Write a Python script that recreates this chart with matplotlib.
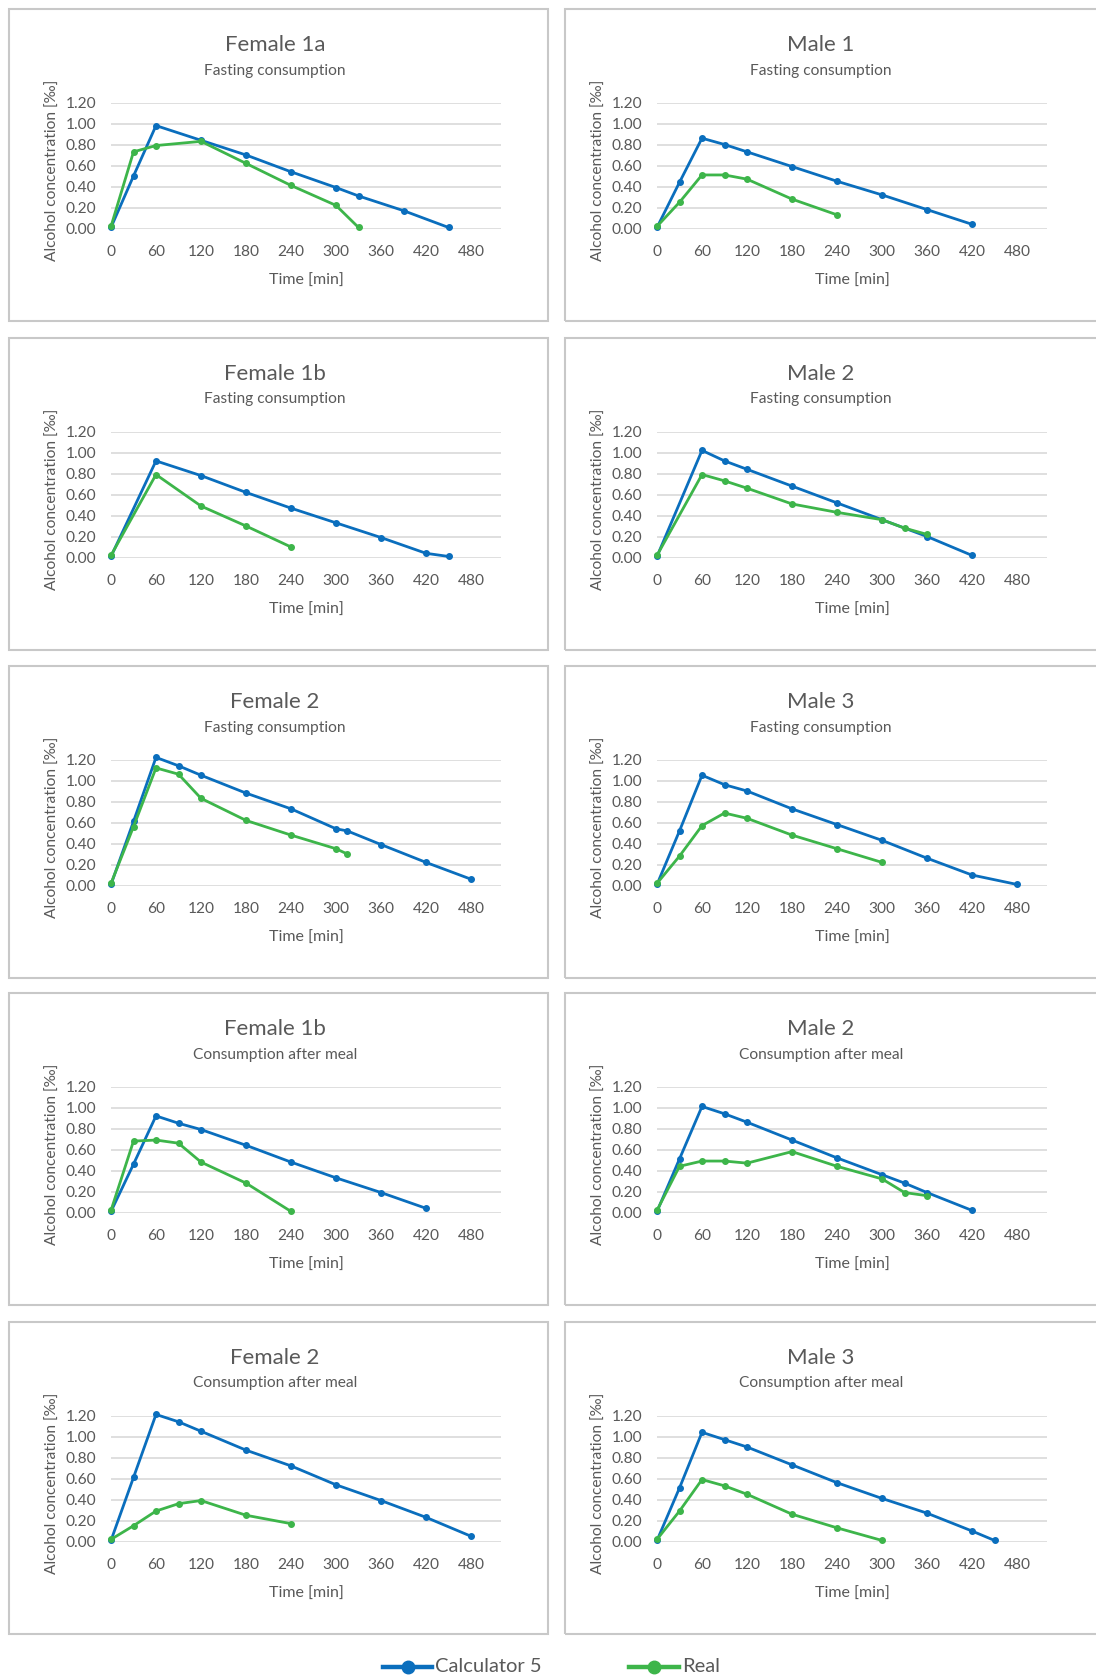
import matplotlib
matplotlib.use("Agg")
import matplotlib.pyplot as plt
from matplotlib.patches import Rectangle
from matplotlib.lines import Line2D

plt.rcParams['font.family'] = ['Lato', 'DejaVu Sans']

W, H = 1096, 1679
BLUE = '#0a6ebd'
GREEN = '#3db54a'
TXT = '#595959'
GRID = '#d9d9d9'
FRAME = '#c8c8c8'

# ---- data -------------------------------------------------------------
titles = ['Female 1a', 'Male 1', 'Female 1b', 'Male 2', 'Female 2', 'Male 3',
          'Female 1b', 'Male 2', 'Female 2', 'Male 3']
subtitles = ['Fasting consumption'] * 6 + ['Consumption after meal'] * 4

calc_t = [
    [0, 30, 60, 120, 180, 240, 300, 330, 390, 450],
    [0, 30, 60, 90, 120, 180, 240, 300, 360, 420],
    [0, 60, 120, 180, 240, 300, 360, 420, 450],
    [0, 60, 90, 120, 180, 240, 300, 360, 420],
    [0, 30, 60, 90, 120, 180, 240, 300, 315, 360, 420, 480],
    [0, 30, 60, 90, 120, 180, 240, 300, 360, 420, 480],
    [0, 30, 60, 90, 120, 180, 240, 300, 360, 420],
    [0, 30, 60, 90, 120, 180, 240, 300, 330, 360, 420],
    [0, 30, 60, 90, 120, 180, 240, 300, 360, 420, 480],
    [0, 30, 60, 90, 120, 180, 240, 300, 360, 420, 450],
]
calc_v = [
    [0.01, 0.50, 0.98, 0.84, 0.70, 0.54, 0.39, 0.31, 0.17, 0.01],
    [0.01, 0.44, 0.86, 0.80, 0.73, 0.59, 0.45, 0.32, 0.18, 0.04],
    [0.01, 0.92, 0.78, 0.62, 0.47, 0.33, 0.19, 0.04, 0.01],
    [0.01, 1.02, 0.92, 0.84, 0.68, 0.52, 0.36, 0.20, 0.02],
    [0.01, 0.61, 1.22, 1.14, 1.05, 0.88, 0.73, 0.54, 0.52, 0.39, 0.22, 0.06],
    [0.01, 0.52, 1.05, 0.96, 0.90, 0.73, 0.58, 0.43, 0.26, 0.10, 0.01],
    [0.01, 0.46, 0.92, 0.85, 0.79, 0.64, 0.48, 0.33, 0.19, 0.04],
    [0.01, 0.51, 1.01, 0.94, 0.86, 0.69, 0.52, 0.36, 0.28, 0.19, 0.02],
    [0.01, 0.61, 1.21, 1.14, 1.05, 0.87, 0.72, 0.54, 0.39, 0.23, 0.05],
    [0.01, 0.51, 1.04, 0.97, 0.90, 0.73, 0.56, 0.41, 0.27, 0.10, 0.01],
]
real_t = [
    [0, 30, 60, 120, 180, 240, 300, 330],
    [0, 30, 60, 90, 120, 180, 240],
    [0, 60, 120, 180, 240],
    [0, 60, 90, 120, 180, 240, 300, 330, 360],
    [0, 30, 60, 90, 120, 180, 240, 300, 315],
    [0, 30, 60, 90, 120, 180, 240, 300],
    [0, 30, 60, 90, 120, 180, 240],
    [0, 30, 60, 90, 120, 180, 240, 300, 330, 360],
    [0, 30, 60, 90, 120, 180, 240],
    [0, 30, 60, 90, 120, 180, 240, 300],
]
real_v = [
    [0.02, 0.73, 0.79, 0.83, 0.62, 0.41, 0.22, 0.01],
    [0.02, 0.25, 0.51, 0.51, 0.47, 0.28, 0.13],
    [0.02, 0.79, 0.49, 0.30, 0.10],
    [0.02, 0.79, 0.73, 0.66, 0.51, 0.43, 0.36, 0.28, 0.22],
    [0.02, 0.56, 1.12, 1.06, 0.83, 0.62, 0.48, 0.35, 0.30],
    [0.02, 0.28, 0.57, 0.69, 0.64, 0.48, 0.35, 0.22],
    [0.02, 0.68, 0.69, 0.66, 0.48, 0.28, 0.01],
    [0.02, 0.44, 0.49, 0.49, 0.47, 0.58, 0.44, 0.32, 0.19, 0.16],
    [0.02, 0.15, 0.29, 0.36, 0.39, 0.25, 0.17],
    [0.02, 0.29, 0.59, 0.53, 0.45, 0.26, 0.13, 0.01],
]
x_ticks = [0, 60, 120, 180, 240, 300, 360, 420, 480]
y_ticks = [0.00, 0.20, 0.40, 0.60, 0.80, 1.00, 1.20]
legend_labels = ['Calculator 5', 'Real']

# ---- layout (pixels) --------------------------------------------------
row_top = [9, 338, 666, 993, 1322]
frame_h = 312
col_frame_x = [(9, 548), (565, 1110)]
col_plot_x = [(111, 501), (657, 1047)]
col_title_x = [275, 821]
plot_top_off, plot_bot_off = 93.5, 219.5

fig = plt.figure(figsize=(W / 100, H / 100), dpi=100)


def fx(px):
    return px / W


def fy(py):
    return 1 - py / H


for i in range(10):
    r, c = divmod(i, 2)
    top = row_top[r]
    x0f, x1f = col_frame_x[c]
    fig.patches.append(Rectangle((fx(x0f), fy(top + frame_h)), fx(x1f - x0f), frame_h / H,
                                 transform=fig.transFigure, fill=False,
                                 edgecolor=FRAME, linewidth=1.5))
    px0, px1 = col_plot_x[c]
    pt, pb = top + plot_top_off, top + plot_bot_off
    ax = fig.add_axes([fx(px0), fy(pb), fx(px1 - px0), (pb - pt) / H])
    ax.set_xlim(0, 520)
    ax.set_ylim(0, 1.2)
    ax.set_xticks(x_ticks)
    ax.set_yticks(y_ticks)
    ax.set_yticklabels([f'{v:.2f}' for v in y_ticks])
    ax.tick_params(length=0, colors=TXT, labelsize=11.2)
    ax.tick_params(axis='y', pad=10.5)
    ax.tick_params(axis='x', pad=12)
    for s in ax.spines.values():
        s.set_visible(False)
    ax.grid(axis='y', color=GRID, linewidth=1.2)
    ax.set_axisbelow(True)
    ax.plot(calc_t[i], calc_v[i], color=BLUE, lw=2.0, marker='o', ms=4.0,
            clip_on=False, zorder=3)
    ax.plot(real_t[i], real_v[i], color=GREEN, lw=2.0, marker='o', ms=4.0,
            clip_on=False, zorder=4)

    tx = col_title_x[c]
    fig.text(fx(tx), fy(top + 36), titles[i], ha='center', va='center',
             fontsize=16, color=TXT)
    fig.text(fx(tx), fy(top + 61.5), subtitles[i], ha='center', va='center',
             fontsize=11.2, color=TXT)
    fig.text(fx((px0 + px1) / 2), fy(pb + 52), 'Time [min]', ha='center',
             va='center', fontsize=11.5, color=TXT)
    fig.text(fx(px0 - 58), fy((pt + pb) / 2 + 5), 'Alcohol concentration [‰]',
             ha='center', va='center', rotation=90, fontsize=11.2, color=TXT)

# ---- legend -----------------------------------------------------------
ly = 1667
for (lx0, lx1), col, lab in zip([(383, 432), (629, 679)], [BLUE, GREEN], legend_labels):
    fig.lines.append(Line2D([fx(lx0), fx(lx1)], [fy(ly), fy(ly)], transform=fig.transFigure,
                            color=col, lw=3.2))
    fig.lines.append(Line2D([fx((lx0 + lx1) / 2)], [fy(ly)], transform=fig.transFigure,
                            color=col, marker='o', ms=9))
    fig.text(fx(lx1 + 3), fy(ly), lab, ha='left', va='center', fontsize=14.5, color=TXT)

fig.savefig('out.png', dpi=100, facecolor='white')
